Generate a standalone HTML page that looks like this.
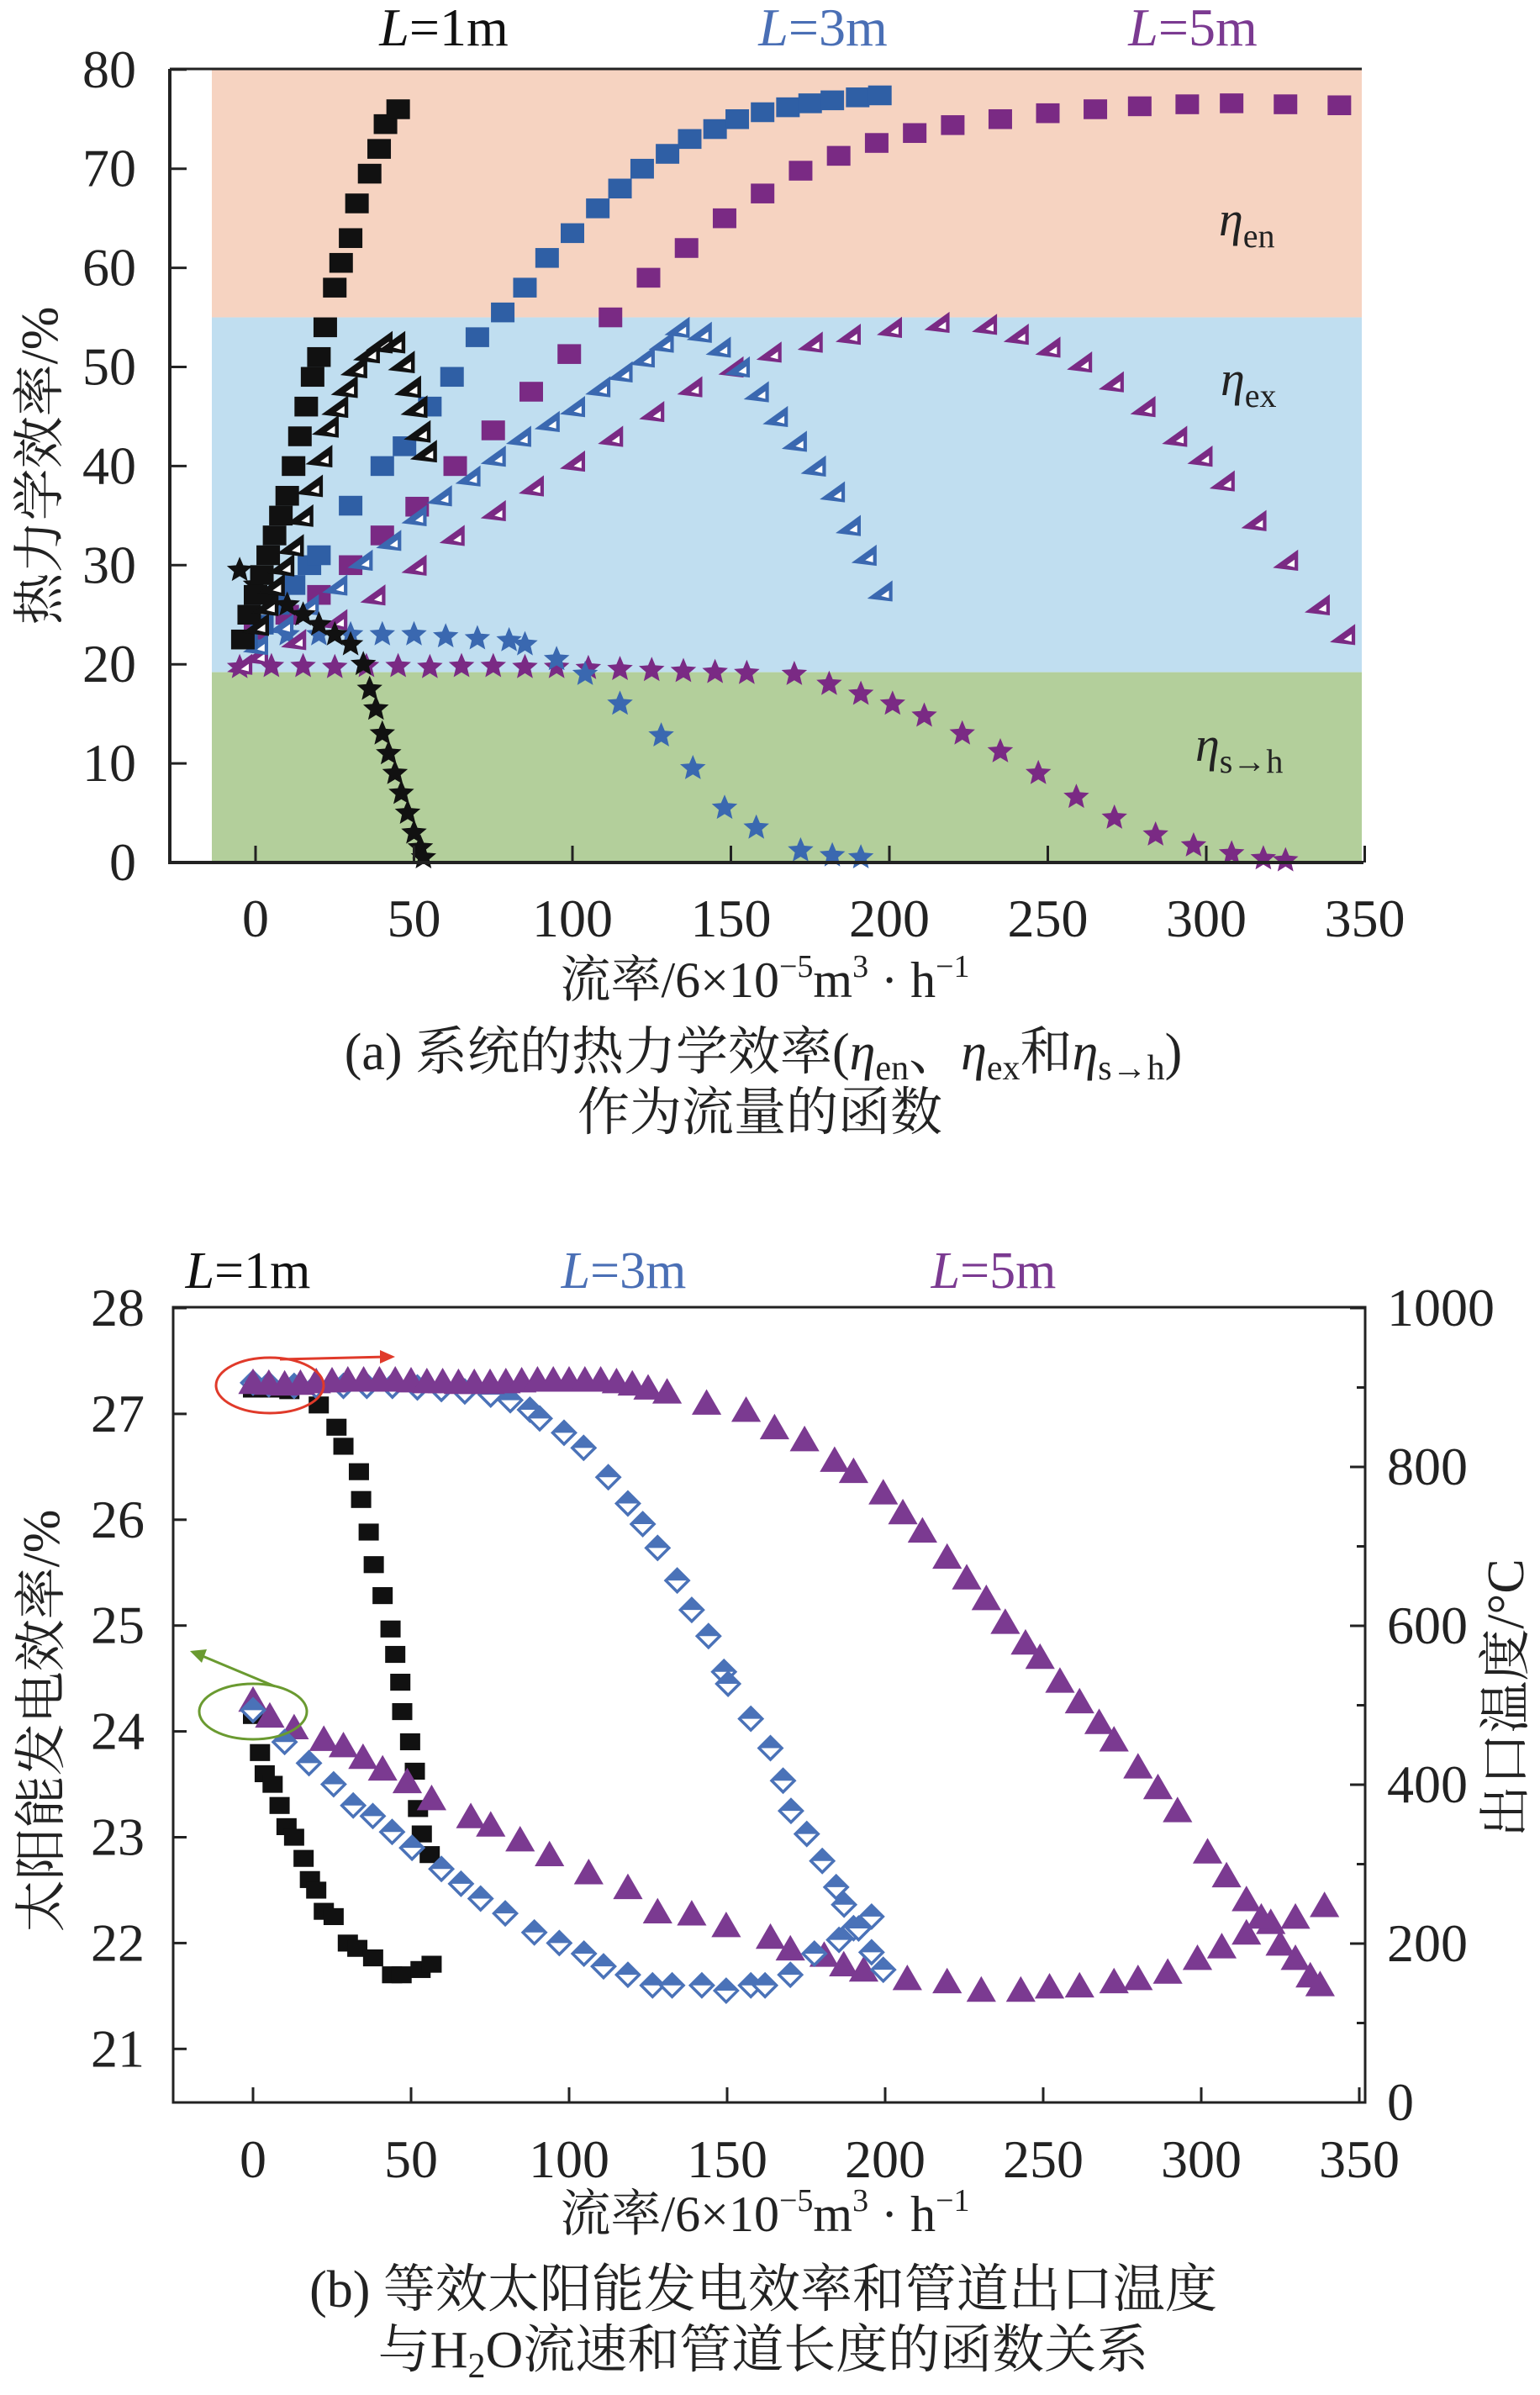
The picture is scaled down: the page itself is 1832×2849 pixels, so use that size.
<!DOCTYPE html>
<html><head><meta charset="utf-8"><style>
html,body{margin:0;padding:0;background:#fff;}
svg{display:block;}
text{font-family:"Liberation Serif","Noto Serif CJK SC","Noto Sans CJK SC",serif;}
</style></head><body>
<svg id="fig" width="1832" height="2849" viewBox="0 0 1832 2849" xmlns="http://www.w3.org/2000/svg">
<g id="chartA">
  <rect id="bandEn" fill="#f6d3c1"/>
  <rect id="bandEx" fill="#c0def0"/>
  <rect id="bandSh" fill="#b3cf9b"/>
  <g id="aMarks"></g>
  <line x1="202" y1="82" x2="1620" y2="82" stroke="#222" stroke-width="3"/>
  <line x1="202" y1="82" x2="202" y2="1027" stroke="#222" stroke-width="4"/>
  <line x1="200" y1="1026" x2="1622" y2="1026" stroke="#222" stroke-width="4"/>
  <g id="aAxes"></g>
  <text x="528" y="54" font-size="64" text-anchor="middle" fill="#111"><tspan font-style="italic">L</tspan>=1m</text>
  <text x="979" y="54" font-size="64" text-anchor="middle" fill="#4a6fb5"><tspan font-style="italic">L</tspan>=3m</text>
  <text x="1419" y="54" font-size="64" text-anchor="middle" fill="#7b3a91"><tspan font-style="italic">L</tspan>=5m</text>
  <text x="1450" y="280" font-size="58" fill="#222"><tspan font-style="italic">η</tspan><tspan font-size="40" dy="14">en</tspan></text>
  <text x="1452" y="470" font-size="58" fill="#222"><tspan font-style="italic">η</tspan><tspan font-size="40" dy="14">ex</tspan></text>
  <text x="1422" y="905" font-size="58" fill="#222"><tspan font-style="italic">η</tspan><tspan font-size="40" dy="14">s→h</tspan></text>
  <text transform="translate(68,554) rotate(-90)" font-size="62" text-anchor="middle" fill="#222">热力学效率/%</text>
  <text x="910" y="1186" font-size="60" text-anchor="middle" fill="#222">流率/6×10<tspan font-size="38" dy="-24">−5</tspan><tspan dy="24">m</tspan><tspan font-size="38" dy="-24">3</tspan><tspan dy="24"> · h</tspan><tspan font-size="38" dy="-24">−1</tspan></text>
  <text x="908" y="1272" font-size="62" text-anchor="middle" fill="#222">(a) 系统的热力学效率(<tspan font-style="italic">η</tspan><tspan font-size="42" dy="12">en</tspan><tspan dy="-12">、</tspan><tspan font-style="italic">η</tspan><tspan font-size="42" dy="12">ex</tspan><tspan dy="-12">和</tspan><tspan font-style="italic">η</tspan><tspan font-size="42" dy="12">s→h</tspan><tspan dy="-12">)</tspan></text>
  <text x="904" y="1344" font-size="62" text-anchor="middle" fill="#222">作为流量的函数</text>
</g>
<g id="chartB">
  <g id="bMarks"></g>
  <rect x="206" y="1555" width="1418" height="946" fill="none" stroke="#222" stroke-width="3"/>
  <g id="bAxes"></g>
  <ellipse cx="321" cy="1648" rx="64" ry="33" fill="none" stroke="#e03a2a" stroke-width="3"/>
  <line x1="333" y1="1617" x2="460" y2="1614" stroke="#e03a2a" stroke-width="3"/>
  <polygon points="470,1614 452,1606 452,1622" fill="#e03a2a"/>
  <ellipse cx="301" cy="2036" rx="64" ry="33" fill="none" stroke="#6a9a30" stroke-width="3"/>
  <line x1="327" y1="2006" x2="236" y2="1968" stroke="#6a9a30" stroke-width="3"/>
  <polygon points="226,1964 246,1962 240,1978" fill="#6a9a30"/>
  <text x="295" y="1532" font-size="62" text-anchor="middle" fill="#111"><tspan font-style="italic">L</tspan>=1m</text>
  <text x="742" y="1532" font-size="62" text-anchor="middle" fill="#4a6fb5"><tspan font-style="italic">L</tspan>=3m</text>
  <text x="1182" y="1532" font-size="62" text-anchor="middle" fill="#7b3a91"><tspan font-style="italic">L</tspan>=5m</text>
  <text transform="translate(70,2047) rotate(-90)" font-size="62" text-anchor="middle" fill="#222">太阳能发电效率/%</text>
  <text transform="translate(1812,2020) rotate(-90)" font-size="62" text-anchor="middle" fill="#222">出口温度/°C</text>
  <text x="910" y="2654" font-size="60" text-anchor="middle" fill="#222">流率/6×10<tspan font-size="38" dy="-24">−5</tspan><tspan dy="24">m</tspan><tspan font-size="38" dy="-24">3</tspan><tspan dy="24"> · h</tspan><tspan font-size="38" dy="-24">−1</tspan></text>
  <text x="908" y="2744" font-size="62" text-anchor="middle" fill="#222">(b) 等效太阳能发电效率和管道出口温度</text>
  <text x="908" y="2816" font-size="62" text-anchor="middle" fill="#222">与H<tspan font-size="42" dy="12">2</tspan><tspan dy="-12">O流速和管道长度的函数关系</tspan></text>
</g>
</svg>
<script>
// ---------- Chart A data ----------
const aEn1X = [-4,-2,0,2,4,6,8,10,12,14,16,18,20,22,25,27,30,32,36,39,41,45];
const aEn1Y = [22.5,25,27,29,31,33,35,37,40,43,46,49,51,54,58,60.5,63,66.5,69.5,72,74.5,76];
const aEx1X = [0,3,5,8,11,14,17,20,22,25,28,31,35,39,43,46,48,50,51,53];
const aEx1Y = [24,26,28,30,32,35,38,41,44,46,48,50,51.5,52.5,52.5,50.5,48,46,43.5,41.5];
const aSh1X = [-5,0,5,10,15,20,25,30,34,36,38,40,42,44,46,48,50,52,53];
const aSh1Y = [29.5,28,27,26,25,24,23,22,20,17.5,15.5,13,11,9,7,5,3,1.5,0.5];
const aEn3X = [-3,2,7,12,17,20,30,40,47,55,62,70,78,85,92,100,108,115,122,130,137,145,152,160,168,175,182,190,197];
const aEn3Y = [22.5,24,26,28,30,31,36,40,42,46,49,53,55.5,58,61,63.5,66,68,70,71.5,73,74,75,75.7,76.2,76.6,76.9,77.2,77.4];
const aEx3X = [0,8,16,25,33,42,50,58,67,75,83,92,100,108,115,122,128,133,140,146,152,158,164,170,176,182,187,192,197];
const aEx3Y = [22,24,26,28,30.5,32.5,35,37,39,41,43,44.5,46,48,49.5,51,52.5,54,53.5,52,50,47.5,45,42.5,40,37.4,34,31,27.4];
const aSh3X = [0,10,20,30,40,50,60,70,80,85,95,104,115,128,138,148,158,172,182,191];
const aSh3Y = [23,23,23,23,23,23,22.8,22.6,22.4,22,20.5,19,16,12.8,9.5,5.5,3.5,1.2,0.7,0.5];
const aEn5X = [0,10,20,30,40,51,63,75,87,99,112,124,136,148,160,172,184,196,208,220,235,250,265,279,294,308,325,342];
const aEn5Y = [23.5,25,27,30,33,35.9,40,43.6,47.5,51.3,55,59,62,65,67.5,69.8,71.3,72.6,73.6,74.4,75,75.6,76,76.3,76.5,76.6,76.5,76.4];
const aEx5X = [-5,0,12,25,37,50,62,75,87,100,112,125,137,150,162,175,187,200,215,230,240,250,260,270,280,290,298,305,315,325,335,343];
const aEx5Y = [20,21,22.5,24.5,27,30,33,35.5,38,40.5,43,45.5,48,50,51.5,52.5,53.3,54,54.5,54.3,53.3,52,50.5,48.5,46,43,41,38.5,34.5,30.5,26,23];
const aSh5X = [-5,5,15,25,35,45,55,65,75,85,95,105,115,125,135,145,155,170,181,191,201,211,223,235,247,259,271,284,296,308,318,325];
const aSh5Y = [19.7,19.8,19.8,19.7,19.8,19.8,19.7,19.8,19.8,19.7,19.7,19.6,19.5,19.4,19.3,19.2,19.1,19,18,17,16,14.8,13,11.2,9,6.6,4.5,2.8,1.7,0.9,0.4,0.2];
const aXTicks = [0,50,100,150,200,250,300,350];
const aYTicks = [0,10,20,30,40,50,60,70,80];
const aBands = [55,19.2,0];

// ---------- Chart B data ----------
const bT1X = [0,5.3,11.5,20.8,26.4,28.6,33.5,34.2,36.6,38.2,41,43.5,45,46.6,47.2,49.7,51.2,52.2,53.4,55.9];
const bT1Y = [898,898,896,878,850,826,794,759,718,677,638,596,564,529,492,454,417,370,338,312];
const bE1X = [0,2.2,3.7,6.2,8.4,10.6,13,16,18,20,22.4,25.5,30,33,38,44,47,53,56.5];
const bE1Y = [24.15,23.8,23.6,23.5,23.3,23.1,23,22.8,22.6,22.5,22.3,22.25,22,21.95,21.86,21.7,21.7,21.75,21.8];
const bT3X = [0,5,13,20,28.6,36,44.1,52,59.6,67,75.2,81.4,87.6,90.7,98.4,104.6,112.4,118.6,123.3,128,134.2,138.8,144.1,149,150.3,157.5,163.7,167.7,170.2,175.2,180.1,184.5,187,191.6,195.7,199.4];
const bT3Y = [906,904,902,902,902,902,902,900,898,895,891,884,872,861,843,824,787,754,728,698,657,620,587,542,527,483,446,405,367,338,304,271,249,219,189,167];
const bE3X = [0,10,17.7,25.5,31.7,37.9,44,50.3,59.6,65.8,72,79.8,89,96.9,104.7,110.9,118.6,126.4,132.6,142,149.7,157.5,162,170,177.6,185.4,190,195.7];
const bE3Y = [24.2,23.9,23.7,23.5,23.3,23.2,23.05,22.9,22.7,22.56,22.42,22.28,22.1,22,21.9,21.78,21.7,21.6,21.6,21.6,21.55,21.6,21.6,21.7,21.9,22.03,22.14,22.25];
const bT5X = [0,5,10,15,20,25,30,35,40,45,50,55,60,65,70,75,80,85,90,95,100,105,110,115,120,125,131,143.5,156,165,174.5,184,190,199.4,205.6,211.8,219.6,225.8,232,238,244.4,249,255.3,261.5,267.7,272.4,280,286.3,292.5,302,308,314.3,319,325,329.8,334.5,337.6];
const bT5Y = [907,906,905,906,908,909,910,910,910,910,909,908,908,907,907,907,908,909,910,910,910,910,910,908,905,900,895,881,872,850,835,809,795,768,743,720,687,661,635,605,579,561,531,505,479,457,423,397,368,316,286,256,234,200,182,160,149];
const bE5X = [0,5.3,13,22.4,28.6,34.8,41,48.8,56.5,68.9,75.2,84.5,93.8,106.2,118.6,128,138.8,149.7,163.7,170,180.7,186.9,193.2,207,219.6,230.4,242.9,252,261.5,272.4,280,289.4,298.8,306.5,314.3,322,329.8,339];
const bE5Y = [24.3,24.15,24.04,23.93,23.87,23.76,23.65,23.53,23.37,23.2,23.12,22.98,22.84,22.67,22.53,22.3,22.28,22.17,22.06,21.95,21.89,21.8,21.75,21.67,21.64,21.56,21.56,21.59,21.6,21.64,21.67,21.73,21.86,21.97,22.1,22.2,22.25,22.36];
const bXTicks = [0,50,100,150,200,250,300,350];
const bLTicks = [21,22,23,24,25,26,27,28];
const bRTicks = [0,200,400,600,800,1000];
const bRMinor = [100,300,500,700,900];

const NS = 'http://www.w3.org/2000/svg';
function xa(v){return 304+3.77*v;}
function ya(v){return 1026-11.79*v;}
function xb(v){return 301+3.76*v;}
function yl(v){return 1556+(28-v)*125.9;}
function yr(t){return 2501-0.945*t;}
function mk(tag,parent){const e=document.createElementNS(NS,tag);parent.appendChild(e);return e;}

const bandEn=document.getElementById('bandEn'), bandEx=document.getElementById('bandEx'), bandSh=document.getElementById('bandSh');
const bx0=252, bx1=1620;
bandEn.setAttribute('x',bx0);bandEn.setAttribute('width',bx1-bx0);bandEn.setAttribute('y',ya(80));bandEn.setAttribute('height',ya(aBands[0])-ya(80));
bandEx.setAttribute('x',bx0);bandEx.setAttribute('width',bx1-bx0);bandEx.setAttribute('y',ya(aBands[0]));bandEx.setAttribute('height',ya(aBands[1])-ya(aBands[0]));
bandSh.setAttribute('x',bx0);bandSh.setAttribute('width',bx1-bx0);bandSh.setAttribute('y',ya(aBands[1]));bandSh.setAttribute('height',ya(aBands[2])-ya(aBands[1]));

function square(g,cx,cy,s,fill,name){
  const r=mk('rect',g);
  
  
  r.setAttribute('x',cx-s/2);r.setAttribute('y',cy-s*0.42);r.setAttribute('width',s);r.setAttribute('height',s*0.84);r.setAttribute('fill',fill);
}
function leftTri(g,cx,cy,s,fill,name){
  const p=mk('polygon',g);
  
  
  p.setAttribute('points',`${cx-s/2},${cy+s*0.3} ${cx+s/2},${cy-s*0.42} ${cx+s/2},${cy+s*0.42}`);p.setAttribute('fill',fill);
  const w=mk('polygon',g);
  
  
  w.setAttribute('points',`${cx+s*0.05},${cy+s*0.2} ${cx+s*0.36},${cy-s*0.02} ${cx+s*0.36},${cy+s*0.28}`);w.setAttribute('fill','#fff');
}
function star(g,cx,cy,r,fill,name){
  let pts=[];
  for(let i=0;i<10;i++){const a=-Math.PI/2+i*Math.PI/5;const rr=i%2?r*0.45:r;pts.push((cx+rr*Math.cos(a)).toFixed(1)+','+(cy+rr*Math.sin(a)).toFixed(1));}
  const p=mk('polygon',g);
  
  
  p.setAttribute('points',pts.join(' '));p.setAttribute('fill',fill);
}
function upTri(g,cx,cy,s,fill,name){
  const p=mk('polygon',g);
  
  
  p.setAttribute('points',`${cx},${cy-s*0.5} ${cx-s*0.55},${cy+s*0.45} ${cx+s*0.55},${cy+s*0.45}`);p.setAttribute('fill',fill);
}
function diamond(g,cx,cy,s,col,name){
  const p=mk('polygon',g);
  
  
  p.setAttribute('points',`${cx},${cy-s/2} ${cx+s/2},${cy} ${cx},${cy+s/2} ${cx-s/2},${cy}`);p.setAttribute('fill','#fff');p.setAttribute('stroke',col);p.setAttribute('stroke-width','3.5');
  const q=mk('polygon',g);
  
  
  q.setAttribute('points',`${cx},${cy-s/2} ${cx+s/2},${cy} ${cx-s/2},${cy}`);q.setAttribute('fill',col);
}

const gA=document.getElementById('aMarks');
const BLK='#111', BLU='#2f5fa5', PUR='#7a2a84';
aSh5X.forEach((x,i)=>star(gA,xa(x),ya(aSh5Y[i]),16,PUR,'point-eta-sh-l5'));
aSh3X.forEach((x,i)=>star(gA,xa(x),ya(aSh3Y[i]),16,'#3a68b0','point-eta-sh-l3'));
aEx5X.forEach((x,i)=>leftTri(gA,xa(x),ya(aEx5Y[i]),30,PUR,'point-eta-ex-l5'));
aEn5X.forEach((x,i)=>square(gA,xa(x),ya(aEn5Y[i]),28,PUR,'point-eta-en-l5'));
aEx3X.forEach((x,i)=>leftTri(gA,xa(x),ya(aEx3Y[i]),30,'#3a68b0','point-eta-ex-l3'));
aEn3X.forEach((x,i)=>square(gA,xa(x),ya(aEn3Y[i]),28,BLU,'point-eta-en-l3'));
aSh1X.forEach((x,i)=>star(gA,xa(x),ya(aSh1Y[i]),16,BLK,'point-eta-sh-l1'));
aEn1X.forEach((x,i)=>square(gA,xa(x),ya(aEn1Y[i]),28,BLK,'point-eta-en-l1'));
aEx1X.forEach((x,i)=>leftTri(gA,xa(x),ya(aEx1Y[i]),32,BLK,'point-eta-ex-l1'));

const axA=document.getElementById('aAxes');
aXTicks.forEach(v=>{
  const l=mk('line',axA);
  
  
  l.setAttribute('x1',xa(v));l.setAttribute('x2',xa(v));l.setAttribute('y1',1026);l.setAttribute('y2',1006);l.setAttribute('stroke','#222');l.setAttribute('stroke-width','3');
  const t=mk('text',axA);
  
  
  t.setAttribute('x',xa(v));t.setAttribute('y',1114);t.setAttribute('font-size','64');t.setAttribute('text-anchor','middle');t.setAttribute('fill','#222');t.textContent=v;
});
aYTicks.forEach(v=>{
  const l=mk('line',axA);
  
  
  l.setAttribute('x1',202);l.setAttribute('x2',222);l.setAttribute('y1',ya(v));l.setAttribute('y2',ya(v));l.setAttribute('stroke','#222');l.setAttribute('stroke-width','3');
  const t=mk('text',axA);
  
  
  t.setAttribute('x',162);t.setAttribute('y',ya(v)+21);t.setAttribute('font-size','64');t.setAttribute('text-anchor','end');t.setAttribute('fill','#222');t.textContent=v;
});

const gB=document.getElementById('bMarks');
const BB='#4a72b8', PB='#7b3a91';
bE1X.forEach((x,i)=>square(gB,xb(x),yl(bE1Y[i]),24,BLK,'point-eff-l1'));
bT1X.forEach((x,i)=>square(gB,xb(x),yr(bT1Y[i]),24,BLK,'point-temp-l1'));
bE5X.forEach((x,i)=>upTri(gB,xb(x),yl(bE5Y[i]),32,PB,'point-eff-l5'));
bE3X.forEach((x,i)=>diamond(gB,xb(x),yl(bE3Y[i]),27,BB,'point-eff-l3'));
bT3X.forEach((x,i)=>diamond(gB,xb(x),yr(bT3Y[i]),27,BB,'point-temp-l3'));
bT5X.forEach((x,i)=>upTri(gB,xb(x),yr(bT5Y[i]),32,PB,'point-temp-l5'));

const axB=document.getElementById('bAxes');
bXTicks.forEach(v=>{
  const l=mk('line',axB);
  
  
  l.setAttribute('x1',xb(v));l.setAttribute('x2',xb(v));l.setAttribute('y1',2501);l.setAttribute('y2',2483);l.setAttribute('stroke','#222');l.setAttribute('stroke-width','3');
  const t=mk('text',axB);
  
  
  t.setAttribute('x',xb(v));t.setAttribute('y',2590);t.setAttribute('font-size','64');t.setAttribute('text-anchor','middle');t.setAttribute('fill','#222');t.textContent=v;
});
bLTicks.forEach(v=>{
  const l=mk('line',axB);
  
  
  l.setAttribute('x1',206);l.setAttribute('x2',222);l.setAttribute('y1',yl(v));l.setAttribute('y2',yl(v));l.setAttribute('stroke','#222');l.setAttribute('stroke-width','3');
  const t=mk('text',axB);
  
  
  t.setAttribute('x',172);t.setAttribute('y',yl(v)+21);t.setAttribute('font-size','64');t.setAttribute('text-anchor','end');t.setAttribute('fill','#222');t.textContent=v;
});
bRTicks.forEach(v=>{
  const l=mk('line',axB);
  
  
  l.setAttribute('x1',1624);l.setAttribute('x2',1606);l.setAttribute('y1',yr(v));l.setAttribute('y2',yr(v));l.setAttribute('stroke','#222');l.setAttribute('stroke-width','3');
  const t=mk('text',axB);
  
  
  t.setAttribute('x',1650);t.setAttribute('y',yr(v)+21);t.setAttribute('font-size','64');t.setAttribute('text-anchor','start');t.setAttribute('fill','#222');t.textContent=v;
});
bRMinor.forEach(v=>{
  const l=mk('line',axB);
  
  
  l.setAttribute('x1',1624);l.setAttribute('x2',1614);l.setAttribute('y1',yr(v));l.setAttribute('y2',yr(v));l.setAttribute('stroke','#222');l.setAttribute('stroke-width','3');
});
</script>
</body></html>
